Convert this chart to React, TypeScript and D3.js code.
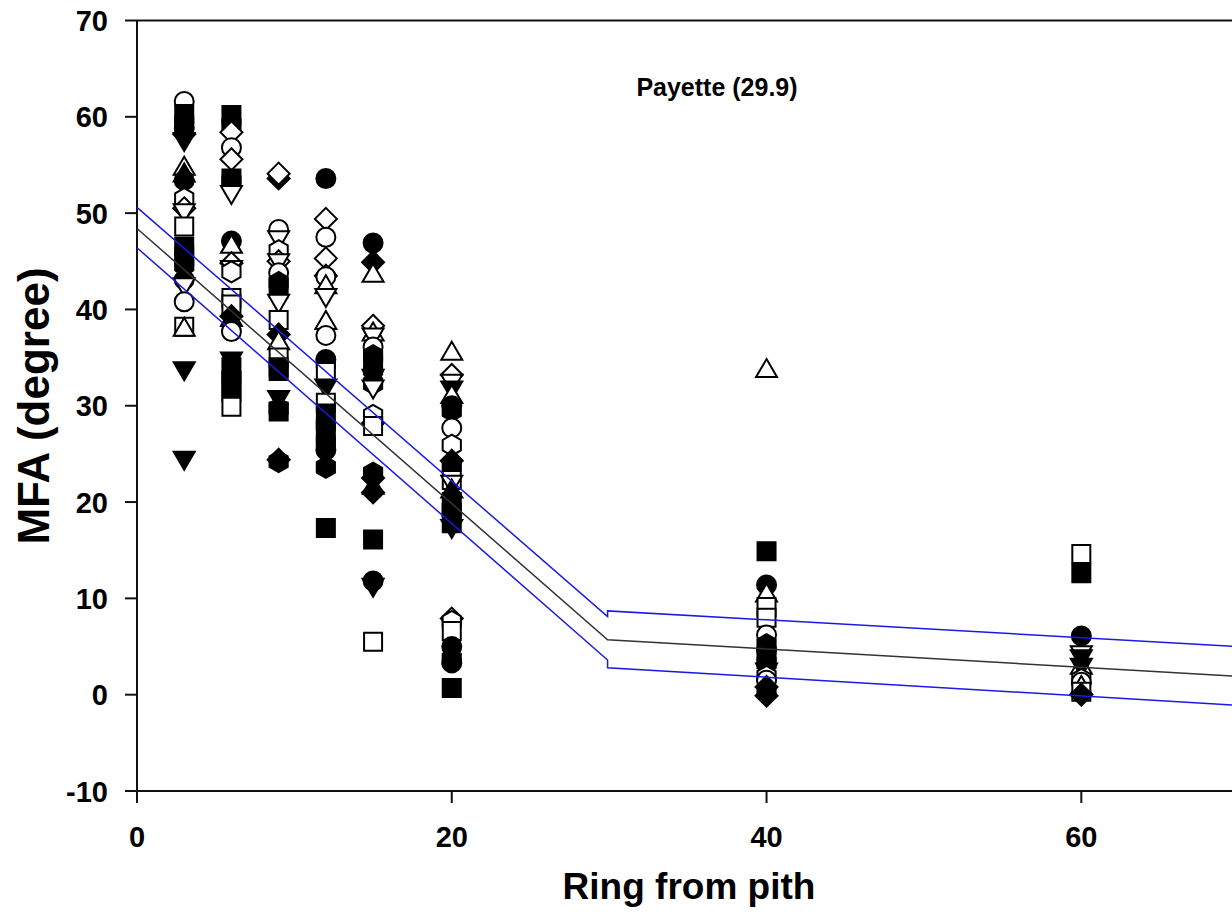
import React, { useEffect, useRef } from "react";
import * as d3 from "d3";

// Ring positions sampled along the radius
const rings = [3, 6, 9, 12, 15, 20, 40, 60];

// Marker codes: f = filled, o = open; c circle, s square, d diamond, h hexagon, tu/td triangle up/down
const ring3Sym = ["oc", "fs", "fh", "fc", "fd", "ftd", "otu", "ftu", "fc", "oh", "od", "otd", "os", "fs", "fs", "fh", "fc", "otd", "oc", "os", "otu", "ftd", "ftd"];
const ring3Mfa = [61.6, 60.3, 59.5, 58.8, 58.2, 57.6, 54.7, 54.0, 53.4, 51.5, 50.5, 50.2, 48.6, 46.5, 45.5, 44.6, 43.1, 42.5, 40.8, 38.2, 38.0, 33.8, 24.5];

const ring6Sym = ["fs", "fh", "od", "oc", "od", "fs", "fh", "otd", "fc", "otu", "od", "otd", "oh", "os", "os", "fd", "ftu", "oc", "ftd", "fs", "fh", "fs", "fs", "os"];
const ring6Mfa = [60.2, 59.2, 58.4, 56.8, 55.6, 53.6, 53.3, 52.1, 47.1, 46.6, 44.8, 44.3, 43.9, 41.2, 40.5, 39.3, 39.0, 37.7, 34.8, 34.0, 33.0, 32.0, 31.4, 29.9];

const ring9Sym = ["fd", "od", "oc", "otd", "oh", "od", "otd", "oc", "fh", "fs", "otd", "os", "fd", "otu", "os", "fs", "fs", "ftd", "fh", "fs", "fd", "fh"];
const ring9Mfa = [53.6, 54.1, 48.3, 47.4, 46.1, 45.0, 45.0, 43.8, 42.8, 42.2, 40.8, 38.9, 37.4, 36.6, 35.0, 34.0, 33.6, 30.8, 29.7, 29.4, 24.4, 24.2];

const ring12Sym = ["fc", "od", "oc", "od", "od", "oc", "otu", "otd", "otu", "oc", "fc", "fh", "os", "ftd", "os", "fs", "fh", "fs", "fh", "fc", "fh", "fs"];
const ring12Mfa = [53.6, 49.4, 47.5, 45.3, 43.5, 43.4, 42.4, 41.4, 38.7, 37.3, 34.8, 34.5, 33.5, 32.0, 30.3, 29.2, 28.0, 27.2, 26.2, 25.4, 23.6, 17.3];

const ring15Sym = ["fc", "fd", "otu", "od", "otu", "otd", "oc", "fh", "fs", "fc", "ftd", "fh", "otd", "od", "oh", "os", "fh", "fd", "ftu", "fd", "fs", "ftd", "fc", "os"];
const ring15Mfa = [46.9, 44.9, 43.6, 38.3, 37.5, 37.3, 36.1, 35.2, 34.2, 33.6, 33.0, 32.3, 31.9, 28.2, 29.0, 27.9, 23.0, 22.5, 21.6, 21.0, 16.1, 11.3, 11.8, 5.5];

const ring20Sym = ["otu", "od", "otd", "ftd", "otu", "fc", "fh", "oc", "oh", "fd", "fh", "os", "otd", "ftu", "fs", "fh", "fc", "fs", "ftd", "od", "oh", "os", "fc", "fh", "fc", "fs"];
const ring20Mfa = [35.5, 33.2, 32.5, 31.8, 31.0, 30.0, 29.5, 27.7, 25.9, 24.3, 23.8, 22.3, 22.0, 21.2, 20.0, 19.3, 18.7, 17.8, 17.4, 7.9, 7.6, 6.6, 5.0, 3.7, 3.3, 0.7];

const ring40Sym = ["otu", "fs", "fc", "otu", "os", "os", "oc", "fh", "fc", "fs", "fh", "ftd", "oh", "oc", "fd", "fh", "fd"];
const ring40Mfa = [33.7, 14.9, 11.4, 10.4, 9.1, 8.0, 6.2, 5.2, 4.6, 4.0, 3.3, 2.5, 1.9, 1.5, 0.8, 0.3, -0.1];

const ring60Sym = ["os", "fs", "fc", "otd", "ftd", "otu", "ftd", "oh", "oc", "otu", "os", "fd"];
const ring60Mfa = [14.6, 12.6, 6.1, 4.3, 3.9, 2.9, 3.0, 1.6, 1.3, 0.8, 0.3, 0.0];

const ringSym = [ring3Sym, ring6Sym, ring9Sym, ring12Sym, ring15Sym, ring20Sym, ring40Sym, ring60Sym];
const ringMfa = [ring3Mfa, ring6Mfa, ring9Mfa, ring12Mfa, ring15Mfa, ring20Mfa, ring40Mfa, ring60Mfa];

// Segmented regression (breakpoint at ring 29.9) and its confidence band
const fitRing = [0, 29.9, 70];
const fitMfa = [48.4, 5.7, 1.9];
const upperRing = [0, 29.9, 29.9, 70];
const upperMfa = [50.6, 8.1, 8.7, 5.0];
const lowerRing = [0, 29.9, 29.9, 70];
const lowerMfa = [46.4, 3.6, 2.8, -1.1];

const yTicks = [-10, 0, 10, 20, 30, 40, 50, 60, 70];
const xTicks = [0, 20, 40, 60];

function markerPath(code: string) {
    const p = d3.path();
    const shape = code.slice(1);
    if (shape === "c") {
        p.arc(0, 0, 9.5, 0, 2 * Math.PI);
    } else if (shape === "s") {
        p.rect(-9, -9, 18, 18);
    } else if (shape === "d") {
        p.moveTo(0, -11); p.lineTo(11, 0); p.lineTo(0, 11); p.lineTo(-11, 0); p.closePath();
    } else if (shape === "tu") {
        p.moveTo(0, -11); p.lineTo(10.5, 7); p.lineTo(-10.5, 7); p.closePath();
    } else if (shape === "td") {
        p.moveTo(0, 11); p.lineTo(10.5, -7); p.lineTo(-10.5, -7); p.closePath();
    } else if (shape === "h") {
        for (let i = 0; i < 6; i++) {
            const a = -Math.PI / 2 + i * Math.PI / 3;
            if (i === 0) p.moveTo(10.5 * Math.cos(a), 10.5 * Math.sin(a));
            else p.lineTo(10.5 * Math.cos(a), 10.5 * Math.sin(a));
        }
        p.closePath();
    }
    return p.toString();
}

export default function App() {
    const svgRef = useRef(null);
    const width = 1232;
    const height = 912;

    useEffect(() => {
        const svg = d3.select(svgRef.current);
        svg.selectAll("*").remove();

        const x = d3.scaleLinear().domain([0, 70]).range([137, 1238.7]);
        const y = d3.scaleLinear().domain([-10, 70]).range([791, 20.5]);
        const font = "Liberation Sans, Arial, Helvetica, sans-serif";

        // Frame: left axis, bottom axis, top line
        const frame = svg.append("g").attr("stroke", "#111").attr("stroke-width", 2).attr("fill", "none");
        frame.append("line").attr("x1", x(0)).attr("x2", x(0)).attr("y1", y(70)).attr("y2", y(-10));
        frame.append("line").attr("x1", x(0)).attr("x2", x(70)).attr("y1", y(-10)).attr("y2", y(-10));
        frame.append("line").attr("x1", x(0)).attr("x2", x(70)).attr("y1", y(70)).attr("y2", y(70));

        // Y ticks + labels
        svg.append("g")
            .selectAll("line")
            .data(yTicks)
            .join("line")
            .attr("x1", x(0) - 12).attr("x2", x(0))
            .attr("y1", d => y(d)).attr("y2", d => y(d))
            .attr("stroke", "#111").attr("stroke-width", 2);
        svg.append("g")
            .selectAll("text")
            .data(yTicks)
            .join("text")
            .attr("x", 108)
            .attr("y", d => y(d) + 10.5)
            .attr("text-anchor", "end")
            .style("font-family", font)
            .style("font-weight", "bold")
            .style("font-size", "29px")
            .text(d => d);

        // X ticks + labels
        svg.append("g")
            .selectAll("line")
            .data(xTicks)
            .join("line")
            .attr("x1", d => x(d)).attr("x2", d => x(d))
            .attr("y1", y(-10)).attr("y2", y(-10) + 12)
            .attr("stroke", "#111").attr("stroke-width", 2);
        svg.append("g")
            .selectAll("text")
            .data(xTicks)
            .join("text")
            .attr("x", d => x(d))
            .attr("y", 847)
            .attr("text-anchor", "middle")
            .style("font-family", font)
            .style("font-weight", "bold")
            .style("font-size", "29px")
            .text(d => d);

        // Axis titles
        svg.append("text")
            .attr("x", 689)
            .attr("y", 899)
            .attr("text-anchor", "middle")
            .style("font-family", font)
            .style("font-weight", "bold")
            .style("font-size", "37px")
            .text("Ring from pith");
        svg.append("text")
            .attr("transform", `translate(49,406) rotate(-90)`)
            .attr("text-anchor", "middle")
            .style("font-family", font)
            .style("font-weight", "bold")
            .style("font-size", "44px")
            .text("MFA (degree)");

        // Site label
        svg.append("text")
            .attr("x", 717)
            .attr("y", 96)
            .attr("text-anchor", "middle")
            .style("font-family", font)
            .style("font-weight", "bold")
            .style("font-size", "25px")
            .text("Payette (29.9)");

        // Markers
        const points = rings.flatMap((r, i) =>
            ringMfa[i].map((v, j) => ({ ring: r, mfa: v, sym: ringSym[i][j] }))
        );
        svg.append("g")
            .selectAll("path")
            .data(points)
            .join("path")
            .attr("transform", d => `translate(${x(d.ring)},${y(d.mfa)})`)
            .attr("d", d => markerPath(d.sym))
            .attr("fill", d => d.sym[0] === "f" ? "#000" : "#fff")
            .attr("stroke", "#000")
            .attr("stroke-width", 2);

        // Regression and confidence lines
        const line = d3.line<[number, number]>().x(d => x(d[0])).y(d => y(d[1]));
        const pairs = (xs: number[], ys: number[]) => xs.map((v, i) => [v, ys[i]] as [number, number]);
        svg.append("path")
            .attr("d", line(pairs(upperRing, upperMfa)))
            .attr("fill", "none").attr("stroke", "#1a1ae6").attr("stroke-width", 1.5);
        svg.append("path")
            .attr("d", line(pairs(lowerRing, lowerMfa)))
            .attr("fill", "none").attr("stroke", "#1a1ae6").attr("stroke-width", 1.5);
        svg.append("path")
            .attr("d", line(pairs(fitRing, fitMfa)))
            .attr("fill", "none").attr("stroke", "#333").attr("stroke-width", 1.5);
    }, []);

    return (
        <svg
            ref={svgRef}
            width={width}
            height={height}
            style={{ position: "absolute", left: 0, top: 0, background: "#fff" }}
        />
    );
}
